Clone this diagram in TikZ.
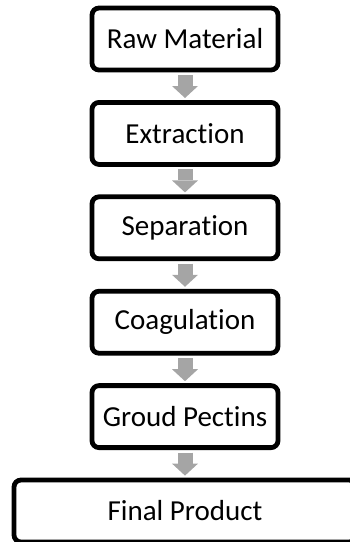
\documentclass[tikz,border=0pt]{standalone}
\usepackage{fontspec}
\setmainfont{Carlito}[Ligatures=NoCommon]
\usepackage{tikz}
\usetikzlibrary{arrows.meta,positioning}
\definecolor{arrgray}{HTML}{A5A5A5}
\tikzset{
  stepbox/.style={draw=black,line width=4.8pt,rounded corners=7pt,minimum width=186pt,minimum height=62pt,inner sep=0pt,fill=white,font=\fontsize{29}{34}\selectfont},
  widebox/.style={stepbox,minimum width=342pt},
  blk/.style={draw=arrgray,line width=15pt,-{Triangle[width=26pt,length=12pt,line width=0pt]},shorten <=2.5pt,shorten >=2pt},
}
\begin{document}
\begin{tikzpicture}[node distance=27.6pt]
\useasboundingbox (0,0) rectangle (350pt,-542pt);
\node[stepbox] (raw) at (185pt,-39pt) {Raw Material};
\node[stepbox,below=of raw] (ext) {Extraction};
\node[stepbox,below=of ext] (sep) {Separation};
\node[stepbox,below=of sep] (coa) {Coagulation};
\node[stepbox,below=of coa] (grp) {Groud Pectins};
\node[widebox,below=of grp] (fin) {Final Product};
\foreach \u/\v in {raw/ext,ext/sep,sep/coa,coa/grp,grp/fin} \draw[blk] (\u)--(\v);
\end{tikzpicture}
\end{document}
